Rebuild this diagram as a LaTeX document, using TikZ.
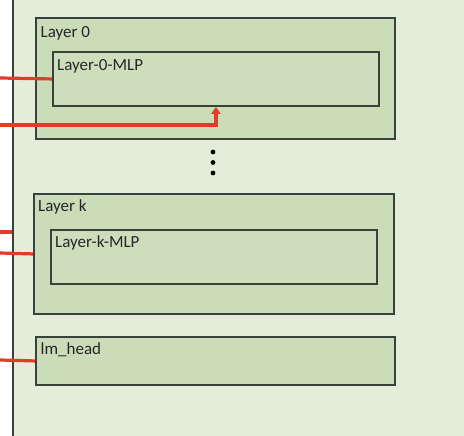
\documentclass[tikz,border=0pt]{standalone}
\usepackage{fontspec}
\setmainfont{Carlito}
\usetikzlibrary{arrows.meta, positioning}
\definecolor{modelgreen}{HTML}{E3EDD9}
\definecolor{layergreen}{HTML}{CADCB8}
\definecolor{mlpgreen}{HTML}{CEDEBC}
\definecolor{edgegray}{HTML}{36423A}
\definecolor{wirered}{HTML}{E43A28}

\begin{document}
\begin{tikzpicture}[
    x=1pt, y=-1pt,
    container/.style={rectangle, draw=edgegray, line width=1.9pt, anchor=north west, inner sep=0pt},
    layerbox/.style={container, fill=layergreen},
    mlpbox/.style={container, fill=mlpgreen},
    tag/.style={inner sep=0pt, font=\fontsize{17}{20}\selectfont, text=black!85},
    wire/.style={wirered, line width=3.2pt},
    feed/.style={wire, -{Triangle[length=7pt, width=9pt]}}
]
\path[use as bounding box, clip] (0,0) rectangle (464,436);
\fill[white] (0,0) rectangle (464,436);

% model container, cut off at the top and right
\node[container, fill=modelgreen, minimum width=480pt, minimum height=470pt] (model) at (12,-15) {};

% layers
\node[layerbox, minimum width=359pt, minimum height=121pt] (layer0) at (35,17) {};
\node[mlpbox, minimum width=326pt, minimum height=54pt] (mlp0) at (52,51) {};
\node[layerbox, minimum width=360pt, minimum height=120pt] (layerk) at (33,193) {};
\node[mlpbox, minimum width=326pt, minimum height=54pt] (mlpk) at (50,229) {};
\node[layerbox, minimum width=359pt, minimum height=48pt] (head) at (35,336) {};

\node[tag, below right=9pt and 5.5pt of layer0.north west] (layer0tag) {Layer 0};
\node[tag, below right=8pt and 5pt of mlp0.north west] (mlp0tag) {Layer-0-MLP};
\node[tag, below right=6.5pt and 5pt of layerk.north west] (layerktag) {Layer k};
\node[tag, below right=6.5pt and 5pt of mlpk.north west] (mlpktag) {Layer-k-MLP};
\node[tag, below right=6pt and 5.5pt of head.north west] (headtag) {lm\_head};

% vertical ellipsis between the layers
\foreach \y in {152,162.5,173}
    \fill (213,\y) circle (2.4pt);

% inputs coming in from the left
\coordinate (in0) at (0,78);
\coordinate (in1) at (0,125);
\coordinate (in2) at (0,232);
\coordinate (in3) at (0,253);
\coordinate (in4) at (0,360);

\draw[wire] (in0) -- (mlp0.west);
\draw[feed] (in1) -| (mlp0.south);
\draw[wire] (in2) -- (in2 -| model.west);
\draw[wire] (in3) -- (layerk.west);
\draw[wire] (in4) -- (head.west);
\end{tikzpicture}
\end{document}
